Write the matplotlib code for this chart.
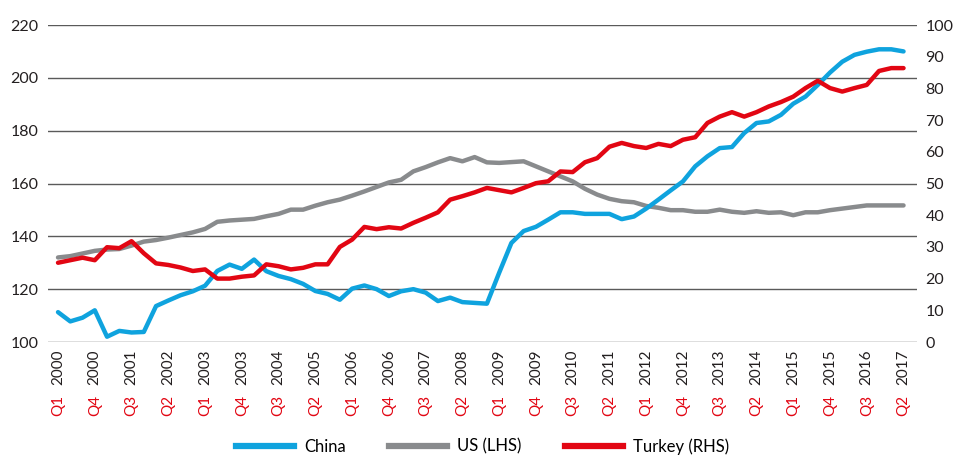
import numpy as np
import matplotlib
matplotlib.use("Agg")
import matplotlib.pyplot as plt
import matplotlib.transforms as mtransforms
from matplotlib.lines import Line2D

# -- data: quarterly, Q1 2000 .. Q2 2017 --
quarters = [f"Q{q} {y}" for y in range(2000, 2018) for q in range(1, 5)][:70]

china = [111.3, 107.8, 109.2, 112.0, 102.0, 104.2, 103.6, 103.8, 113.6, 115.7,
         117.7, 119.2, 121.3, 126.9, 129.3, 127.7, 131.2, 126.8, 125.0, 123.8,
         122.0, 119.3, 118.2, 116.0, 120.2, 121.4, 120.0, 117.4, 119.2, 120.0,
         118.7, 115.5, 116.8, 115.1, 114.8, 114.5, 126.2, 137.5, 142.0, 143.6,
         146.3, 149.1, 149.1, 148.5, 148.5, 148.5, 146.5, 147.5, 150.5, 153.9,
         157.4, 160.8, 166.5, 170.3, 173.4, 173.8, 179.1, 182.9, 183.5, 186.0,
         190.2, 192.9, 197.3, 202.0, 206.1, 208.7, 209.9, 210.8, 210.8, 210.0]

us = [132.0, 132.5, 133.5, 134.5, 135.0, 135.2, 136.5, 138.0, 138.6, 139.5,
      140.5, 141.5, 142.8, 145.5, 146.0, 146.3, 146.6, 147.6, 148.5, 150.1,
      150.1, 151.6, 152.9, 153.9, 155.4, 157.0, 158.7, 160.4, 161.4, 164.6,
      166.2, 168.0, 169.6, 168.4, 170.0, 168.0, 167.8, 168.1, 168.4, 166.5,
      164.6, 162.7, 160.8, 158.0, 155.8, 154.2, 153.3, 152.9, 151.5, 150.8,
      149.9, 149.9, 149.3, 149.3, 150.1, 149.3, 148.9, 149.5, 148.9, 149.1,
      148.0, 149.1, 149.1, 149.9, 150.5, 151.1, 151.7, 151.7, 151.7, 151.7]

turkey = [25.0, 25.8, 26.6, 25.8, 29.9, 29.6, 31.8, 28.0, 24.8, 24.3,
          23.5, 22.4, 22.9, 20.0, 20.0, 20.6, 21.0, 24.5, 23.9, 22.9,
          23.4, 24.5, 24.5, 30.0, 32.3, 36.3, 35.6, 36.2, 35.8, 37.6,
          39.2, 40.9, 44.9, 46.0, 47.2, 48.6, 47.9, 47.2, 48.6, 50.1,
          50.7, 53.8, 53.6, 56.7, 58.0, 61.6, 62.8, 61.8, 61.2, 62.5,
          61.8, 63.8, 64.6, 69.1, 71.1, 72.5, 71.1, 72.5, 74.3, 75.7,
          77.4, 80.1, 82.4, 80.1, 79.0, 80.1, 81.1, 85.5, 86.4, 86.4]

left_ticks = [100, 120, 140, 160, 180, 200, 220]
right_ticks = [0, 10, 20, 30, 40, 50, 60, 70, 80, 90, 100]

BLUE = "#0fa3de"
GREY = "#898b8d"
RED = "#e20613"
FONT = "Lato"


def main():
    plt.rcParams['font.family'] = [FONT, 'DejaVu Sans']
    fig = plt.figure(figsize=(9.71, 4.59), dpi=100)
    ax = fig.add_axes([0.0494, 1 - 342 / 459, 0.8950, 317 / 459])
    ax2 = ax.twinx()

    x = np.arange(len(quarters))

    # -- left axis: China and US --
    ax.plot(x, us, color=GREY, lw=3.2, solid_capstyle='round', zorder=3)
    ax.plot(x, china, color=BLUE, lw=3.2, solid_capstyle='round', zorder=4)
    ax.set_ylim(100, 220)
    ax.set_yticks(left_ticks)
    ax.set_xlim(-0.82, 70.1)
    ax.grid(axis='y', color='#5a5a5a', lw=1.0, zorder=1)
    ax.set_axisbelow(True)

    # -- right axis: Turkey --
    ax2.plot(x, turkey, color=RED, lw=3.2, solid_capstyle='round', zorder=5)
    ax2.set_ylim(0, 100)
    ax2.set_yticks(right_ticks)

    for a in (ax, ax2):
        for s in a.spines.values():
            s.set_visible(False)
        a.tick_params(axis='y', length=0, labelsize=11.5, colors='#231f20')
    ax.tick_params(axis='y', pad=7)
    ax2.tick_params(axis='y', pad=6)

    # -- x tick labels: "Qn" in red, year in black --
    ax.set_xticks(x[::3])
    ax.set_xticklabels([])
    ax.tick_params(axis='x', length=0)
    trans = mtransforms.blended_transform_factory(ax.transData, ax.transAxes)
    for i in x[::3]:
        q, yr = quarters[i].split()
        ax.text(i, -0.024, yr, rotation=90, ha='center', va='top',
                fontsize=11, color='#231f20', transform=trans)
        ax.text(i, -0.166, q, rotation=90, ha='center', va='top',
                fontsize=11, color=RED, transform=trans)

    # -- legend --
    handles = [Line2D([], [], color=BLUE, lw=4.5),
               Line2D([], [], color=GREY, lw=4.5),
               Line2D([], [], color=RED, lw=4.5)]
    fig.legend(handles, ["China", "US (LHS)", "Turkey (RHS)"],
               loc='center', bbox_to_anchor=(0.497, 0.027), ncol=3,
               frameon=False, fontsize=12, handlelength=3.5,
               handletextpad=0.6, columnspacing=2.6)

    fig.savefig("out.png", dpi=100)
    plt.close("all")


if __name__ == "__main__":
    main()
